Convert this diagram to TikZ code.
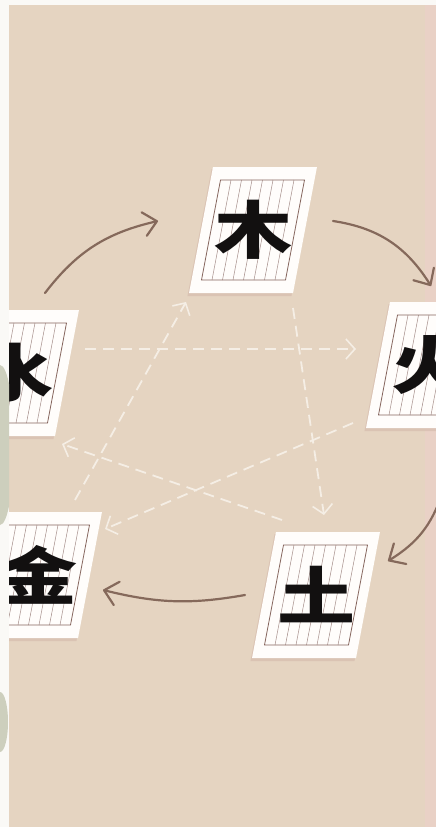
\documentclass[tikz,border=0pt]{standalone}
\usepackage{fontspec}
\newfontfamily\cjk{Noto Sans CJK SC}
\usetikzlibrary{arrows.meta,bending}
\definecolor{bg}{HTML}{E5D4C1}
\definecolor{stripL}{HTML}{FAF9F6}
\definecolor{stripR}{HTML}{E9D1C6}
\definecolor{leaf}{HTML}{CDCFBD}
\definecolor{cardw}{HTML}{FFFDFB}
\definecolor{cshadow}{HTML}{D6BCAE}
\definecolor{rule}{HTML}{A48C88}
\definecolor{ruleb}{HTML}{86665E}
\definecolor{solidarr}{HTML}{85695B}
\definecolor{dasharr}{HTML}{F5EEE5}
\definecolor{ink}{HTML}{121010}
\tikzset{
  solidcyc/.style={draw=solidarr, line width=2.2pt, line cap=round,
    -{Straight Barb[length=13pt,width=24pt,line width=2.2pt,round]}},
  dashcyc/.style={draw=dasharr, line width=1.8pt, dash pattern=on 11pt off 7pt,
    -{Straight Barb[length=9pt,width=20pt,line width=1.6pt]}},
  glyph/.style={font=\cjk\bfseries\fontsize{78}{78}\selectfont, text=ink, inner sep=0pt},
  rulestyle/.style={draw=rule, line width=0.5pt},
  rulebox/.style={draw=ruleb, line width=0.8pt},
  cardface/.style={fill=cardw},
  cardshadow/.style={fill=cshadow, opacity=0.7}
}
\newcommand\wxcard[4]{%
  \begin{scope}[shift={(#2,#3)}, xslant=0.19]
    \fill[cardshadow] (-53,-61) rectangle (51,66);
    \fill[cardface] (-52,-63) rectangle (52,63);
    \foreach \k in {1,...,7} \draw[rulestyle] ({-42+\k*10.5},-50) -- ({-42+\k*10.5},50);
    \draw[rulebox] (-42,-50) rectangle (42,50);
  \end{scope}
  \node[glyph] (#1) at (#2,#3) {\scalebox{1}[0.8]{#4}};
}
\begin{document}
\begin{tikzpicture}[x=1pt,y=-1pt]
\useasboundingbox (0,0) rectangle (436,827);
\clip (0,0) rectangle (436,827);
\fill[bg] (0,0) rectangle (436,827);
\fill[stripR] (425,0) rectangle (436,827);

\wxcard{mu}{253}{230}{木}
\wxcard{huo}{430}{365}{火}
\wxcard{shui}{15}{373}{水}
\wxcard{jin}{38}{575}{金}
\wxcard{tu}{316}{595}{土}

% generating cycle
\coordinate (s1a) at (45,293);  \coordinate (s1b) at (158,221);
\coordinate (s2a) at (333,221); \coordinate (s2b) at (431,286);
\coordinate (s3a) at (442,494); \coordinate (s3b) at (388,561);
\coordinate (s4a) at (245,595); \coordinate (s4b) at (103,590);
\draw[solidcyc] (s1a) to[bend left=20] (s1b);
\draw[solidcyc] (s2a) to[bend left=25] (s2b);
\draw[solidcyc] (s3a) to[bend left=20] (s3b);
\draw[solidcyc] (s4a) to[bend left=12] (s4b);

% controlling cycle
\coordinate (d1a) at (85,349);  \coordinate (d1b) at (356,349);
\coordinate (d2a) at (293,308); \coordinate (d2b) at (324,515);
\coordinate (d3a) at (282,520); \coordinate (d3b) at (62,444);
\coordinate (d4a) at (353,423); \coordinate (d4b) at (105,529);
\coordinate (d5a) at (75,500);  \coordinate (d5b) at (186,302);
\draw[dashcyc] (d1a) -- (d1b);
\draw[dashcyc] (d2a) -- (d2b);
\draw[dashcyc] (d3a) -- (d3b);
\draw[dashcyc] (d4a) -- (d4b);
\draw[dashcyc] (d5a) -- (d5b);

% edge strips
\fill[stripL] (0,0) rectangle (9,827);
\begin{scope}
  \clip (0,0) rectangle (9,827);
  \fill[leaf] (0,445) ellipse (14 and 80);
  \fill[leaf] (0,722) ellipse (8 and 30);
\end{scope}
\fill[stripL] (0,0) rectangle (436,5);
\end{tikzpicture}
\end{document}
